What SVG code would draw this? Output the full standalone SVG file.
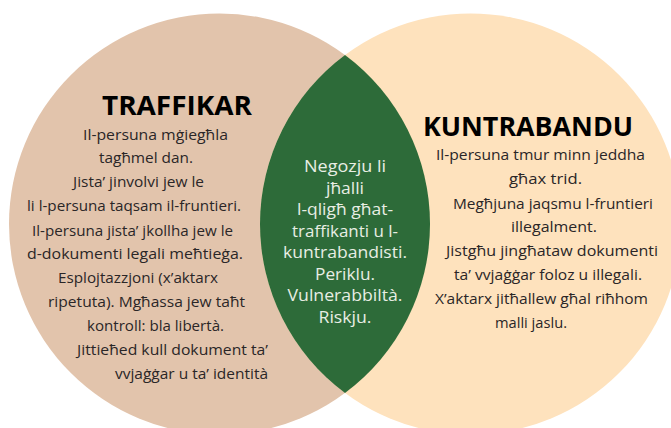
<svg xmlns="http://www.w3.org/2000/svg" width="671" height="428" viewBox="0 0 671 428">
<style>
.body{font-family:"Open Sans","Noto Sans","Liberation Sans",sans-serif;font-size:14px;fill:#2A2627}
.title{font-family:"Open Sans","Noto Sans","Liberation Sans",sans-serif;font-size:26px;font-weight:700;fill:#000000}
.mid{font-family:"Open Sans","Noto Sans","Liberation Sans",sans-serif;font-size:16px;fill:#E8EEE4;text-anchor:middle}
</style>
<rect width="671" height="428" fill="#FFFFFF"/>
<g id="traffikar">
<circle cx="219.5" cy="224" r="210.5" fill="#E2C4AC"/>
<text class="title" x="102" y="115" textLength="150" lengthAdjust="spacingAndGlyphs">TRAFFIKAR</text>
<g class="body">
<text x="83" y="140" textLength="145" lengthAdjust="spacingAndGlyphs">Il-persuna mġiegħla</text>
<text x="99" y="163" textLength="94" lengthAdjust="spacingAndGlyphs">tagħmel dan.</text>
<text x="73" y="187" textLength="131" lengthAdjust="spacingAndGlyphs">Jista’ jinvolvi jew le</text>
<text x="27" y="211" textLength="214" lengthAdjust="spacingAndGlyphs">li l-persuna taqsam il-fruntieri.</text>
<text x="32" y="236" textLength="201" lengthAdjust="spacingAndGlyphs">Il-persuna jista’ jkollha jew le</text>
<text x="27" y="259" textLength="216" lengthAdjust="spacingAndGlyphs">d-dokumenti legali meħtieġa.</text>
<text x="58" y="283" textLength="160" lengthAdjust="spacingAndGlyphs">Esplojtazzjoni (x’aktarx</text>
<text x="48" y="307" textLength="197" lengthAdjust="spacingAndGlyphs">ripetuta). Mgħassa jew taħt</text>
<text x="87" y="331" textLength="137" lengthAdjust="spacingAndGlyphs">kontroll: bla libertà.</text>
<text x="77" y="355" textLength="191" lengthAdjust="spacingAndGlyphs">Jittieħed kull dokument ta’</text>
<text x="115" y="379" textLength="153" lengthAdjust="spacingAndGlyphs">vvjaġġar u ta’ identità</text>
</g>
</g>
<g id="kuntrabandu">
<circle cx="470.5" cy="224" r="210.5" fill="#FEE2BD"/>
<text class="title" x="423" y="136" textLength="210" lengthAdjust="spacingAndGlyphs">KUNTRABANDU</text>
<g class="body">
<text x="436" y="160" textLength="209" lengthAdjust="spacingAndGlyphs">Il-persuna tmur minn jeddha</text>
<text x="509" y="184" textLength="73" lengthAdjust="spacingAndGlyphs">għax trid.</text>
<text x="453" y="209" textLength="200" lengthAdjust="spacingAndGlyphs">Megħjuna jaqsmu l-fruntieri</text>
<text x="511" y="232" textLength="86" lengthAdjust="spacingAndGlyphs">illegalment.</text>
<text x="446" y="256" textLength="212" lengthAdjust="spacingAndGlyphs">Jistgħu jingħataw dokumenti</text>
<text x="454" y="280" textLength="188" lengthAdjust="spacingAndGlyphs">ta’ vvjaġġar foloz u illegali.</text>
<text x="435" y="304" textLength="213" lengthAdjust="spacingAndGlyphs">X’aktarx jitħallew għal riħhom</text>
<text x="495" y="328" textLength="72" lengthAdjust="spacingAndGlyphs">malli jaslu.</text>
</g>
</g>
<g id="overlap">
<path d="M345,55 A210.5,210.5 0 0 0 345,393 A210.5,210.5 0 0 0 345,55 Z" fill="#2D6B39"/>
<text class="mid" x="345" y="172" textLength="82" lengthAdjust="spacingAndGlyphs">Negozju li</text>
<text class="mid" x="345" y="193.5" textLength="38" lengthAdjust="spacingAndGlyphs">jħalli</text>
<text class="mid" x="345" y="215" textLength="96" lengthAdjust="spacingAndGlyphs">l-qligħ għat-</text>
<text class="mid" x="345" y="236.5" textLength="106" lengthAdjust="spacingAndGlyphs">traffikanti u l-</text>
<text class="mid" x="345" y="258" textLength="124" lengthAdjust="spacingAndGlyphs">kuntrabandisti.</text>
<text class="mid" x="345" y="279.5" textLength="60" lengthAdjust="spacingAndGlyphs">Periklu.</text>
<text class="mid" x="345" y="301" textLength="115" lengthAdjust="spacingAndGlyphs">Vulnerabbiltà.</text>
<text class="mid" x="345" y="322.5" textLength="53" lengthAdjust="spacingAndGlyphs">Riskju.</text>
</g>
</svg>
